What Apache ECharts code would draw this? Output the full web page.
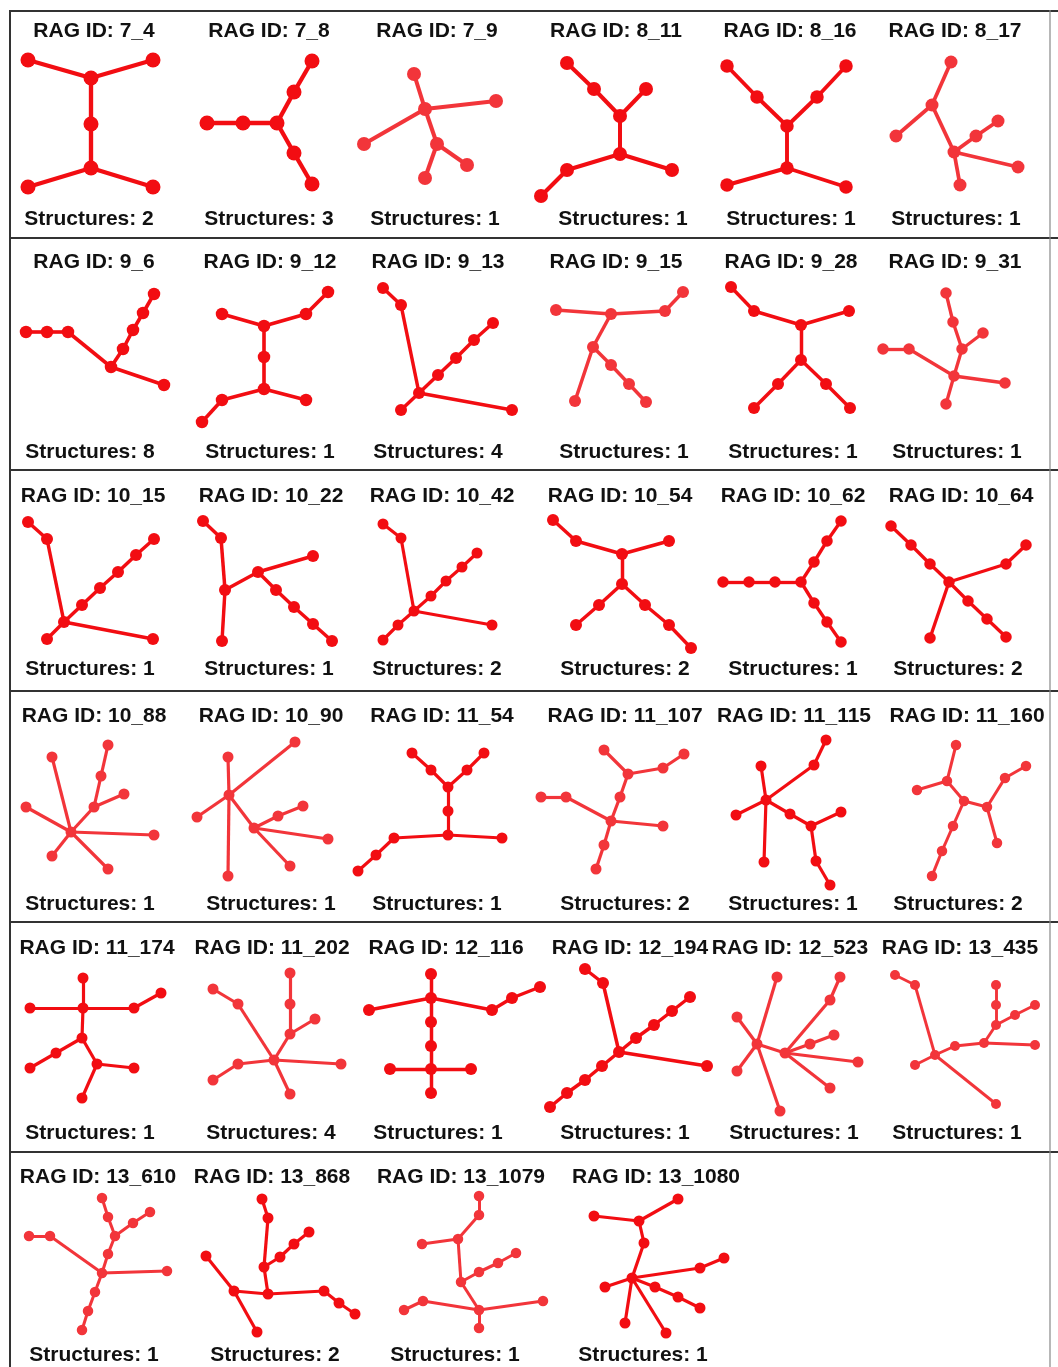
<!DOCTYPE html>
<html>
<head>
<meta charset="utf-8">
<script src="https://cdn.jsdelivr.net/npm/echarts@6/dist/echarts.min.js"></script>
<style>
  html, body { margin: 0; padding: 0; background: #ffffff; }
  #chart { width: 1058px; height: 1367px; }
</style>
</head>
<body>
<div id="chart"></div>
<script>
// ---- RAG identifiers and structure counts (row by row, six per row) ----
const ragIds = [
  '7_4', '7_8', '7_9', '8_11', '8_16', '8_17',
  '9_6', '9_12', '9_13', '9_15', '9_28', '9_31',
  '10_15', '10_22', '10_42', '10_54', '10_62', '10_64',
  '10_88', '10_90', '11_54', '11_107', '11_115', '11_160',
  '11_174', '11_202', '12_116', '12_194', '12_523', '13_435',
  '13_610', '13_868', '13_1079', '13_1080'
];
const structureCounts = [
  2, 3, 1, 1, 1, 1,
  8, 1, 4, 1, 1, 1,
  1, 1, 2, 2, 1, 2,
  1, 1, 1, 2, 1, 2,
  1, 4, 1, 1, 1, 1,
  1, 2, 1, 1
];

// ---- Tree drawings: node positions in each panel's own frame, edges as index pairs ----
const nodes_7_4 = [[18,50],[143,50],[81,68],[81,114],[81,158],[18,177],[143,177]];
const edges_7_4 = [[0,2],[1,2],[2,3],[3,4],[4,5],[4,6]];

const nodes_7_8 = [[23,113],[59,113],[93,113],[110,82],[128,51],[110,143],[128,174]];
const edges_7_8 = [[0,1],[1,2],[2,3],[3,4],[2,5],[5,6]];

const nodes_7_9 = [[56,64],[67,99],[138,91],[6,134],[79,134],[109,155],[67,168]];
const edges_7_9 = [[0,1],[1,2],[1,3],[1,4],[4,5],[4,6]];

const nodes_8_11 = [[35,53],[62,79],[114,79],[88,106],[88,144],[35,160],[9,186],[140,160]];
const edges_8_11 = [[0,1],[1,3],[2,3],[3,4],[4,5],[5,6],[4,7]];

const nodes_8_16 = [[21,56],[51,87],[140,56],[111,87],[81,116],[81,158],[21,175],[140,177]];
const edges_8_16 = [[0,1],[1,4],[2,3],[3,4],[4,5],[5,6],[5,7]];

const nodes_8_17 = [[71,52],[52,95],[16,126],[74,142],[96,126],[118,111],[138,157],[80,175]];
const edges_8_17 = [[0,1],[1,2],[1,3],[3,4],[4,5],[3,6],[3,7]];

const nodes_9_6 = [[16,94],[37,94],[58,94],[101,129],[113,111],[123,92],[133,75],[144,56],[154,147]];
const edges_9_6 = [[0,1],[1,2],[2,3],[3,4],[4,5],[5,6],[6,7],[3,8]];

const nodes_9_12 = [[38,76],[80,88],[122,76],[144,54],[80,119],[80,151],[38,162],[18,184],[122,162]];
const edges_9_12 = [[0,1],[1,2],[2,3],[1,4],[4,5],[5,6],[6,7],[5,8]];

const nodes_9_13 = [[25,50],[43,67],[61,155],[43,172],[80,137],[98,120],[116,102],[135,85],[154,172]];
const edges_9_13 = [[0,1],[1,2],[2,3],[2,4],[4,5],[5,6],[6,7],[2,8]];

const nodes_9_15 = [[24,72],[79,76],[133,73],[151,54],[61,109],[43,163],[79,127],[97,146],[114,164]];
const edges_9_15 = [[0,1],[1,2],[2,3],[1,4],[4,5],[4,6],[6,7],[7,8]];

const nodes_9_28 = [[25,49],[48,73],[95,87],[143,73],[95,122],[72,146],[48,170],[120,146],[144,170]];
const edges_9_28 = [[0,1],[1,2],[2,3],[2,4],[4,5],[5,6],[4,7],[7,8]];

const nodes_9_31 = [[66,55],[73,84],[82,111],[103,95],[3,111],[29,111],[74,138],[125,145],[66,166]];
const edges_9_31 = [[0,1],[1,2],[2,3],[2,6],[4,5],[5,6],[6,7],[6,8]];

const nodes_10_15 = [[18,52],[37,69],[54,152],[37,169],[72,135],[90,118],[108,102],[126,85],[144,69],[143,169]];
const edges_10_15 = [[0,1],[1,2],[2,3],[2,4],[4,5],[5,6],[6,7],[7,8],[2,9]];

const nodes_10_22 = [[19,51],[37,68],[41,120],[38,171],[74,102],[129,86],[92,120],[110,137],[129,154],[148,171]];
const edges_10_22 = [[0,1],[1,2],[2,3],[2,4],[4,5],[4,6],[6,7],[7,8],[8,9]];

const nodes_10_42 = [[25,54],[43,68],[56,141],[40,155],[25,170],[73,126],[88,111],[104,97],[119,83],[134,155]];
const edges_10_42 = [[0,1],[1,2],[2,3],[3,4],[2,5],[5,6],[6,7],[7,8],[2,9]];

const nodes_10_54 = [[21,50],[44,71],[90,84],[137,71],[90,114],[67,135],[44,155],[113,135],[137,155],[159,178]];
const edges_10_54 = [[0,1],[1,2],[2,3],[2,4],[4,5],[5,6],[4,7],[7,8],[8,9]];

const nodes_10_62 = [[17,112],[43,112],[69,112],[95,112],[108,92],[121,71],[135,51],[108,133],[121,152],[135,172]];
const edges_10_62 = [[0,1],[1,2],[2,3],[3,4],[4,5],[5,6],[3,7],[7,8],[8,9]];

const nodes_10_64 = [[11,56],[31,75],[50,94],[69,112],[126,94],[146,75],[50,168],[88,131],[107,149],[126,167]];
const edges_10_64 = [[0,1],[1,2],[2,3],[3,4],[4,5],[3,6],[3,7],[7,8],[8,9]];

const nodes_10_88 = [[42,67],[61,142],[16,117],[84,117],[91,86],[98,55],[114,104],[144,145],[42,166],[98,179]];
const edges_10_88 = [[1,0],[1,2],[1,3],[3,4],[4,5],[3,6],[1,7],[1,8],[1,9]];

const nodes_10_90 = [[44,67],[45,105],[13,127],[111,52],[44,186],[70,138],[94,126],[119,116],[144,149],[106,176]];
const edges_10_90 = [[0,1],[1,2],[1,3],[1,4],[1,5],[5,6],[6,7],[5,8],[5,9]];

const nodes_11_54 = [[54,63],[73,80],[90,97],[109,80],[126,63],[90,121],[90,145],[36,148],[18,165],[0,181],[144,148]];
const edges_11_54 = [[0,1],[1,2],[2,3],[3,4],[2,5],[5,6],[6,7],[7,8],[8,9],[6,10]];

const nodes_11_107 = [[72,60],[96,84],[131,78],[152,64],[88,107],[79,131],[9,107],[34,107],[131,136],[72,155],[64,179]];
const edges_11_107 = [[0,1],[1,2],[2,3],[1,4],[4,5],[5,7],[7,6],[5,8],[5,9],[9,10]];

const nodes_11_115 = [[55,76],[60,110],[30,125],[108,75],[120,50],[58,172],[84,124],[105,136],[135,122],[110,171],[124,195]];
const edges_11_115 = [[0,1],[1,2],[1,3],[3,4],[1,5],[1,6],[6,7],[7,8],[7,9],[9,10]];

const nodes_11_160 = [[76,55],[67,91],[37,100],[84,111],[107,117],[125,88],[146,76],[117,153],[73,136],[62,161],[52,186]];
const edges_11_160 = [[0,1],[1,2],[1,3],[3,4],[4,5],[5,6],[4,7],[3,8],[8,9],[9,10]];

const nodes_11_174 = [[73,56],[73,86],[20,86],[124,86],[151,71],[72,116],[46,131],[20,146],[87,142],[124,146],[72,176]];
const edges_11_174 = [[0,1],[1,2],[1,3],[3,4],[1,5],[5,6],[6,7],[5,8],[8,9],[8,10]];

const nodes_11_202 = [[29,67],[54,82],[90,138],[106,51],[106,82],[106,112],[131,97],[54,142],[29,158],[157,142],[106,172]];
const edges_11_202 = [[0,1],[1,2],[3,4],[4,5],[5,6],[5,2],[2,7],[7,8],[2,9],[2,10]];

const nodes_12_116 = [[73,52],[73,76],[11,88],[134,88],[154,76],[182,65],[73,100],[73,124],[73,147],[32,147],[113,147],[73,171]];
const edges_12_116 = [[0,1],[1,2],[1,3],[3,4],[4,5],[1,6],[6,7],[7,8],[8,9],[8,10],[8,11]];

const nodes_12_194 = [[53,47],[71,61],[87,130],[104,116],[122,103],[140,89],[158,75],[175,144],[70,144],[53,158],[35,171],[18,185]];
const edges_12_194 = [[0,1],[1,2],[2,3],[3,4],[4,5],[5,6],[2,7],[2,8],[8,9],[9,10],[10,11]];

const nodes_12_523 = [[71,55],[51,122],[31,95],[31,149],[74,189],[79,131],[124,78],[134,55],[104,122],[128,113],[152,140],[124,166]];
const edges_12_523 = [[0,1],[1,2],[1,3],[1,4],[1,5],[5,6],[6,7],[5,8],[8,9],[5,10],[5,11]];

const nodes_13_435 = [[15,53],[35,63],[55,133],[35,143],[75,124],[104,121],[155,123],[116,103],[116,83],[116,63],[135,93],[155,83],[116,182]];
const edges_13_435 = [[0,1],[1,2],[2,3],[2,4],[4,5],[5,6],[5,7],[7,8],[8,9],[7,10],[10,11],[2,12]];

const nodes_13_610 = [[19,84],[40,84],[92,121],[157,119],[98,102],[105,84],[98,65],[92,46],[123,71],[140,60],[85,140],[78,159],[72,178]];
const edges_13_610 = [[0,1],[1,2],[2,3],[2,4],[4,5],[5,6],[6,7],[5,8],[8,9],[2,10],[10,11],[11,12]];

const nodes_13_868 = [[78,47],[84,66],[80,115],[96,105],[110,92],[125,80],[84,142],[50,139],[22,104],[73,180],[140,139],[155,151],[171,162]];
const edges_13_868 = [[0,1],[1,2],[2,3],[3,4],[4,5],[2,6],[6,7],[7,8],[7,9],[6,10],[10,11],[11,12]];

const nodes_13_1079 = [[121,44],[121,63],[100,87],[64,92],[103,130],[121,120],[140,111],[158,101],[121,158],[65,149],[46,158],[121,176],[185,149]];
const edges_13_1079 = [[0,1],[1,2],[2,3],[2,4],[4,5],[5,6],[6,7],[4,8],[8,9],[9,10],[8,11],[8,12]];

const nodes_13_1080 = [[146,47],[107,69],[62,64],[112,91],[100,126],[73,135],[168,116],[192,106],[123,135],[146,145],[168,156],[93,171],[134,181]];
const edges_13_1080 = [[0,1],[1,2],[1,3],[3,4],[4,5],[4,6],[6,7],[4,8],[8,9],[9,10],[4,11],[4,12]];

const panelNodes = [
  nodes_7_4, nodes_7_8, nodes_7_9, nodes_8_11, nodes_8_16, nodes_8_17,
  nodes_9_6, nodes_9_12, nodes_9_13, nodes_9_15, nodes_9_28, nodes_9_31,
  nodes_10_15, nodes_10_22, nodes_10_42, nodes_10_54, nodes_10_62, nodes_10_64,
  nodes_10_88, nodes_10_90, nodes_11_54, nodes_11_107, nodes_11_115, nodes_11_160,
  nodes_11_174, nodes_11_202, nodes_12_116, nodes_12_194, nodes_12_523, nodes_13_435,
  nodes_13_610, nodes_13_868, nodes_13_1079, nodes_13_1080
];
const panelEdges = [
  edges_7_4, edges_7_8, edges_7_9, edges_8_11, edges_8_16, edges_8_17,
  edges_9_6, edges_9_12, edges_9_13, edges_9_15, edges_9_28, edges_9_31,
  edges_10_15, edges_10_22, edges_10_42, edges_10_54, edges_10_62, edges_10_64,
  edges_10_88, edges_10_90, edges_11_54, edges_11_107, edges_11_115, edges_11_160,
  edges_11_174, edges_11_202, edges_12_116, edges_12_194, edges_12_523, edges_13_435,
  edges_13_610, edges_13_868, edges_13_1079, edges_13_1080
];

// ---- Layout and styling ----
const COL_LEFT = [10, 184, 358, 532, 706, 880];
const COL_W = 174;
const ROW_TOP = [10, 238, 470, 690, 922, 1152];
const ROW_H = [228, 232, 220, 232, 230, 215];

const TITLE_X = [
  [94, 269, 437, 616, 790, 955],
  [94, 270, 438, 616, 791, 955],
  [93, 271, 442, 620, 793, 961],
  [94, 271, 442, 625, 794, 967],
  [97, 272, 446, 630, 790, 960],
  [98, 272, 461, 656]
];
const TITLE_Y = [31, 262, 496, 716, 948, 1177];
const COUNT_X = [
  [89, 269, 435, 623, 791, 956],
  [90, 270, 438, 624, 793, 957],
  [90, 269, 437, 625, 793, 958],
  [90, 271, 437, 625, 793, 958],
  [90, 271, 438, 625, 794, 957],
  [94, 275, 455, 643]
];
const COUNT_Y = [219, 452, 669, 904, 1133, 1355];

const NODE_SIZE = [
  15, 15, 14, 14, 13.5, 13,
  12.5, 12.5, 12, 12, 12, 11.5,
  12, 12, 11, 12, 11.5, 11.5,
  11, 11, 11, 11, 11, 10.5,
  11, 11, 12, 12, 11, 10,
  10.5, 11, 10.5, 11
];
const DEEP_RED = '#f20d12';
const SOFT_RED = '#f2353a';
const SOFT_PANELS = ['7_9', '8_17', '9_15', '9_31', '10_88', '10_90', '11_107', '11_160',
  '11_202', '12_523', '13_435', '13_610', '13_1079'];

const FONT = 'bold 21px Arial, "Liberation Sans", sans-serif';

const grids = [], xAxes = [], yAxes = [], series = [], graphics = [];

ragIds.forEach(function (id, i) {
  const r = Math.floor(i / 6), c = i % 6;
  const color = SOFT_PANELS.indexOf(id) >= 0 ? SOFT_RED : DEEP_RED;
  const size = NODE_SIZE[i];

  grids.push({ left: COL_LEFT[c], top: ROW_TOP[r], width: COL_W, height: ROW_H[r] });
  xAxes.push({ type: 'value', gridIndex: i, min: 0, max: COL_W, show: false });
  yAxes.push({ type: 'value', gridIndex: i, min: 0, max: ROW_H[r], inverse: true, show: false });

  series.push({
    name: 'RAG ' + id,
    type: 'graph',
    layout: 'none',
    coordinateSystem: 'cartesian2d',
    xAxisIndex: i,
    yAxisIndex: i,
    symbol: 'circle',
    symbolSize: size,
    silent: true,
    animation: false,
    itemStyle: { color: color, opacity: 1 },
    lineStyle: { color: color, width: size * 0.29, opacity: 1, curveness: 0 },
    label: { show: false },
    emphasis: { disabled: true },
    data: panelNodes[i].map(function (p) { return { value: p }; }),
    links: panelEdges[i].map(function (e) { return { source: e[0], target: e[1] }; })
  });

  graphics.push({
    type: 'text', x: TITLE_X[r][c], y: TITLE_Y[r], silent: true,
    style: { text: 'RAG ID: ' + id, font: FONT, fill: '#111111',
             align: 'center', verticalAlign: 'middle' }
  });
  graphics.push({
    type: 'text', x: COUNT_X[r][c], y: COUNT_Y[r], silent: true,
    style: { text: 'Structures: ' + structureCounts[i], font: FONT, fill: '#111111',
             align: 'center', verticalAlign: 'middle' }
  });
});

// Frame: top edge, row separators, left and right edges
const RULES_Y = [11, 238, 470, 691, 922, 1152];
RULES_Y.forEach(function (y) {
  graphics.push({ type: 'line', silent: true,
    shape: { x1: 9, y1: y, x2: 1058, y2: y },
    style: { stroke: '#333333', lineWidth: 2 } });
});
graphics.push({ type: 'line', silent: true,
  shape: { x1: 10, y1: 10, x2: 10, y2: 1367 },
  style: { stroke: '#333333', lineWidth: 2 } });
graphics.push({ type: 'line', silent: true,
  shape: { x1: 1050, y1: 10, x2: 1050, y2: 1367 },
  style: { stroke: '#888888', lineWidth: 1.2 } });

const chart = echarts.init(document.getElementById('chart'), null, { renderer: 'canvas' });
chart.setOption({
  backgroundColor: '#ffffff',
  animation: false,
  grid: grids,
  xAxis: xAxes,
  yAxis: yAxes,
  series: series,
  graphic: graphics
});
</script>
</body>
</html>
